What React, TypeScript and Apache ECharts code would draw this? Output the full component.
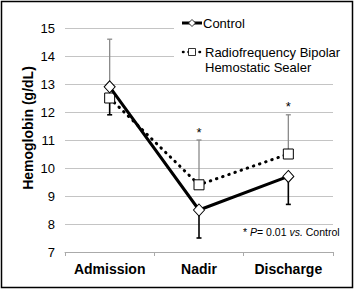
import React, { useEffect, useRef } from "react";
import * as echarts from "echarts";

const categories = ["Admission", "Nadir", "Discharge"];
const controlMean = [12.9, 8.5, 9.7];
const controlErrEnd = [14.6, 7.5, 8.7];
const rfMean = [12.5, 9.4, 10.5];
const rfErrEnd = [11.9, 11.0, 11.9];
const significant = [false, true, true];
const yTicks = { min: 7, max: 15, interval: 1 };

const FONT = "Liberation Sans, Arial, sans-serif";

export default function App() {
  const ref = useRef<HTMLDivElement>(null);
  useEffect(() => {
    document.body.style.margin = "0";
    const chart = echarts.init(ref.current!, null, { renderer: "svg" });

    const errData: any[] = [];
    categories.forEach((_, i) => {
      errData.push([i, controlMean[i], controlErrEnd[i], 0]);
      errData.push([i, rfMean[i], rfErrEnd[i], significant[i] ? 1 : 0]);
    });

    const option: any = {
      animation: false,
      textStyle: { fontFamily: FONT },
      grid: { left: 65, right: 24, top: 28, bottom: 40 },
      xAxis: {
        type: "category",
        data: categories,
        boundaryGap: true,
        axisLine: { lineStyle: { color: "#aaaaaa", width: 1 } },
        axisTick: { show: true, length: 4, lineStyle: { color: "#aaaaaa" } },
        axisLabel: {
          interval: 0,
          color: "#000",
          fontWeight: "bold",
          fontSize: 14,
          fontFamily: FONT,
          margin: 10,
        },
      },
      yAxis: {
        type: "value",
        min: yTicks.min,
        max: yTicks.max,
        interval: yTicks.interval,
        axisLine: { show: false },
        axisTick: { show: false },
        splitLine: { lineStyle: { color: "#c4c4c4", width: 1 } },
        axisLabel: { color: "#000", fontSize: 13, fontFamily: FONT, margin: 10 },
      },
      series: [
        {
          type: "custom",
          data: errData,
          z: 1,
          renderItem: (params: any, api: any) => {
            const x = api.value(0);
            const m = api.value(1);
            const e = api.value(2);
            const sig = api.value(3);
            const p0 = api.coord([x, m]);
            const p1 = api.coord([x, e]);
            const up = e > m;
            const color = up ? "#8a8a8a" : "#000";
            const w = up ? 1.3 : 1.6;
            const children: any[] = [
              {
                type: "line",
                shape: { x1: p0[0], y1: p0[1], x2: p1[0], y2: p1[1] },
                style: { stroke: color, lineWidth: w },
              },
              {
                type: "line",
                shape: { x1: p1[0] - 2.5, y1: p1[1], x2: p1[0] + 2.5, y2: p1[1] },
                style: { stroke: color, lineWidth: w },
              },
            ];
            if (sig) {
              children.push({
                type: "text",
                style: {
                  text: "*",
                  x: p1[0],
                  y: p1[1] - 8,
                  align: "center",
                  verticalAlign: "middle",
                  font: `13px ${FONT}`,
                  fill: "#000",
                },
              });
            }
            return { type: "group", children };
          },
        },
        {
          name: "Radiofrequency Bipolar Hemostatic Sealer",
          type: "line",
          data: rfMean,
          symbol: "rect",
          symbolSize: 10,
          z: 3,
          itemStyle: { color: "#fff", borderColor: "#000", borderWidth: 1 },
          lineStyle: { color: "#000", width: 3, type: [0.5, 6], cap: "round" },
        },
        {
          name: "Control",
          type: "line",
          data: controlMean,
          symbol: "diamond",
          symbolSize: [11, 12],
          z: 4,
          itemStyle: { color: "#fff", borderColor: "#000", borderWidth: 1 },
          lineStyle: { color: "#000", width: 3 },
        },
      ],
      graphic: [
        {
          type: "rect",
          z: 100,
          shape: { x: 1.5, y: 1.5, width: 351, height: 286 },
          style: { fill: "none", stroke: "#000", lineWidth: 1.5 },
        },
        {
          type: "rect",
          z: 90,
          shape: { x: 174, y: 10, width: 162, height: 66 },
          style: { fill: "#fff" },
        },
        {
          type: "line",
          z: 100,
          shape: { x1: 182, y1: 23, x2: 202, y2: 23 },
          style: { stroke: "#000", lineWidth: 3 },
        },
        {
          type: "polygon",
          z: 101,
          shape: { points: [[192, 19.5], [195.5, 23], [192, 26.5], [188.5, 23]] },
          style: { fill: "#fff", stroke: "#000", lineWidth: 0.8 },
        },
        {
          type: "text",
          z: 100,
          style: {
            text: "Control",
            x: 203,
            y: 23,
            verticalAlign: "middle",
            font: `13px ${FONT}`,
            fill: "#000",
          },
        },
        {
          type: "line",
          z: 100,
          shape: { x1: 183, y1: 52, x2: 202, y2: 52 },
          style: { stroke: "#000", lineWidth: 2.5, lineDash: [0.5, 5], lineCap: "round" },
        },
        {
          type: "rect",
          z: 101,
          shape: { x: 188.5, y: 48.5, width: 7, height: 7 },
          style: { fill: "#fff", stroke: "#000", lineWidth: 0.8 },
        },
        {
          type: "text",
          z: 100,
          style: {
            text: "Radiofrequency Bipolar\nHemostatic Sealer",
            x: 205,
            y: 44.5,
            verticalAlign: "top",
            lineHeight: 15,
            font: `13px ${FONT}`,
            fill: "#000",
          },
        },
        {
          type: "text",
          z: 100,
          x: 28,
          y: 128,
          rotation: Math.PI / 2,
          style: {
            text: "Hemoglobin (g/dL)",
            x: 0,
            y: 0,
            align: "center",
            verticalAlign: "middle",
            font: `bold 14px ${FONT}`,
            fill: "#000",
          },
        },
        {
          type: "text",
          z: 100,
          x: 243,
          y: 232,
          style: {
            text: "{n|* }{i|P}{n|= 0.01 }{i|vs.}{n| Control}",
            verticalAlign: "middle",
            rich: {
              n: { fontSize: 10.5, fontFamily: FONT, fill: "#000", color: "#000" },
              i: { fontSize: 10.5, fontFamily: FONT, fontStyle: "italic", fill: "#000", color: "#000" },
            },
          },
        },
      ],
    };
    chart.setOption(option);
    return () => chart.dispose();
  }, []);
  return <div ref={ref} style={{ width: 357, height: 292 }} />;
}
